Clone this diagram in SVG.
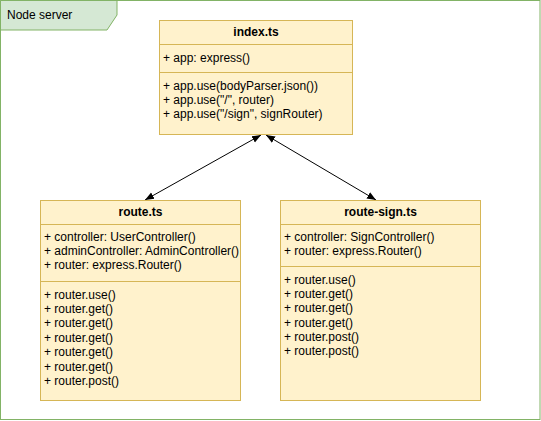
<svg xmlns="http://www.w3.org/2000/svg" width="541" height="421" viewBox="0 0 541 421">
<style>
text{font-family:"Liberation Sans",Arial,sans-serif;font-size:12px;fill:#000}
.t{font-weight:bold;text-anchor:middle}
.box{fill:#fff2cc;stroke:#d6b656;stroke-width:1}
.sep{stroke:#d6b656;stroke-width:1;fill:none}
.edge{stroke:#000;stroke-width:1;fill:none}
</style>
<defs>
<marker id="ah" viewBox="0 0 10 10" refX="10" refY="5" markerWidth="9" markerHeight="9" markerUnits="userSpaceOnUse" orient="auto-start-reverse">
<path d="M0,1 L10,5 L0,9 Z" fill="#000"/>
</marker>
</defs>
<rect width="541" height="421" fill="#fff"/>
<g id="frame">
<rect x="0.5" y="0.5" width="539.5" height="419" fill="#fff" stroke="#82b366"/>
<path d="M0.5,0.5 H117 V15 L107,30 H0.5 Z" fill="#d5e8d4" stroke="#82b366"/>
<text x="7" y="19">Node server</text>
</g>
<g id="connectors">
<line class="edge" x1="261" y1="135" x2="145" y2="200" marker-start="url(#ah)" marker-end="url(#ah)"/>
<line class="edge" x1="266" y1="135" x2="376" y2="200" marker-start="url(#ah)" marker-end="url(#ah)"/>
</g>
<g id="index">
<rect class="box" x="159.5" y="20.5" width="193" height="114"/>
<line class="sep" x1="159.5" y1="44.5" x2="352.5" y2="44.5"/>
<line class="sep" x1="159.5" y1="72.5" x2="352.5" y2="72.5"/>
<text class="t" x="256" y="36">index.ts</text>
<text x="163" y="62">+ app: express()</text>
<text x="163" y="90">+ app.use(bodyParser.json())</text>
<text x="163" y="104">+ app.use("/", router)</text>
<text x="163" y="118">+ app.use("/sign", signRouter)</text>
</g>
<g id="route">
<rect class="box" x="40.5" y="200.5" width="200" height="200"/>
<line class="sep" x1="40.5" y1="224.5" x2="240.5" y2="224.5"/>
<line class="sep" x1="40.5" y1="281.5" x2="240.5" y2="281.5"/>
<text class="t" x="140.5" y="216">route.ts</text>
<text x="44" y="241">+ controller: UserController()</text>
<text x="44" y="255">+ adminController: AdminController()</text>
<text x="44" y="269">+ router: express.Router()</text>
<text x="44" y="299">+ router.use()</text>
<text x="44" y="313">+ router.get()</text>
<text x="44" y="327">+ router.get()</text>
<text x="44" y="342">+ router.get()</text>
<text x="44" y="356">+ router.get()</text>
<text x="44" y="371">+ router.get()</text>
<text x="44" y="385">+ router.post()</text>
</g>
<g id="route-sign">
<rect class="box" x="280.5" y="200.5" width="200" height="200"/>
<line class="sep" x1="280.5" y1="224.5" x2="480.5" y2="224.5"/>
<line class="sep" x1="280.5" y1="266.5" x2="480.5" y2="266.5"/>
<text class="t" x="380.5" y="216">route-sign.ts</text>
<text x="284" y="241">+ controller: SignController()</text>
<text x="284" y="255">+ router: express.Router()</text>
<text x="284" y="284">+ router.use()</text>
<text x="284" y="298">+ router.get()</text>
<text x="284" y="312">+ router.get()</text>
<text x="284" y="327">+ router.get()</text>
<text x="284" y="341">+ router.post()</text>
<text x="284" y="355">+ router.post()</text>
</g>
</svg>
